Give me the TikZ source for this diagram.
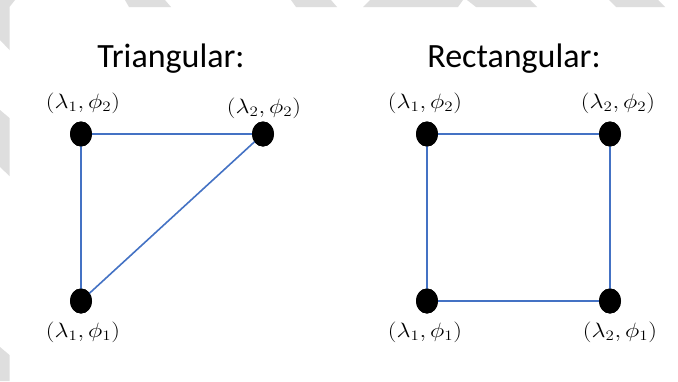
\documentclass[tikz,border=0pt]{standalone}
\usepackage{fontspec}
\setmainfont{Carlito}
\usetikzlibrary{shapes.geometric}
\definecolor{edgeblue}{RGB}{68,114,196}
\definecolor{wmgray}{RGB}{222,222,222}
\tikzset{
  dot/.style={ellipse,fill=black,draw=none,minimum width=22pt,minimum height=25pt,inner sep=0pt},
  edge/.style={draw=edgeblue,line width=1.6pt},
  title/.style={anchor=base,font=\fontsize{34}{40}\selectfont,inner sep=0pt},
  lbl/.style={inner sep=0pt,font=\fontsize{20.5}{24}\selectfont},
  wm/.style={fill=wmgray,draw=none}
}
\newcommand{\pt}[2]{\scalebox{1.18}[1]{$(\lambda_{#1},\phi_{#2})$}}
\begin{document}
\begin{tikzpicture}[x=1pt,y=-1pt]
\useasboundingbox (0,0) rectangle (678,381);
\fill[white] (0,0) rectangle (678,381);
% faint watermark fragments
\fill[wm] (0,0) -- (15,0) -- (9.5,7) -- (9.5,50) -- (0,40) -- cycle;
\fill[wm] (0,110) -- (9.5,118) -- (9.5,176) -- (0,167) -- cycle;
\fill[wm] (0,347) -- (9.5,355) -- (9.5,381) -- (0,381) -- cycle;
\fill[wm] (125,0) -- (165,0) -- (171,7) -- (129,7) -- cycle;
\fill[wm] (291,0) -- (331,0) -- (337,7) -- (296,7) -- cycle;
\fill[wm] (370,0) -- (463,0) -- (458,7) -- (363,7) -- cycle;
\fill[wm] (467,0) -- (530,0) -- (537,7) -- (476,7) -- cycle;
\fill[wm] (609,0) -- (658,0) -- (665,7) -- (616,7) -- cycle;

% titles
\node[title] (t1) at (171,67) {Triangular:};
\node[title] (t2) at (514,67) {Rectangular:};

% triangular
\node[dot] (a1) at (81,134) {};
\node[dot] (a2) at (263,134) {};
\node[dot] (a3) at (81,301) {};
\draw[edge] (a1.center) -- (a2.center);
\draw[edge] (a1.center) -- (a3.center);
\draw[edge] (a2.center) -- (a3.center);
\node[dot] at (a1) {};
\node[dot] at (a2) {};
\node[dot] at (a3) {};
\node[lbl] (la1) at (83,103) {\pt12};
\node[lbl] (la2) at (264,108) {\pt22};
\node[lbl] (la3) at (83,332) {\pt11};

% rectangular
\node[dot] (b1) at (427,134) {};
\node[dot] (b2) at (610,134) {};
\node[dot] (b3) at (427,301) {};
\node[dot] (b4) at (610,301) {};
\draw[edge] (b1.center) -- (b2.center) -- (b4.center) -- (b3.center) -- cycle;
\node[dot] at (b1) {};
\node[dot] at (b2) {};
\node[dot] at (b3) {};
\node[dot] at (b4) {};
\node[lbl] (lb1) at (425,103) {\pt12};
\node[lbl] (lb2) at (618,103) {\pt22};
\node[lbl] (lb3) at (425,332) {\pt11};
\node[lbl] (lb4) at (620,332) {\pt21};
\end{tikzpicture}
\end{document}
